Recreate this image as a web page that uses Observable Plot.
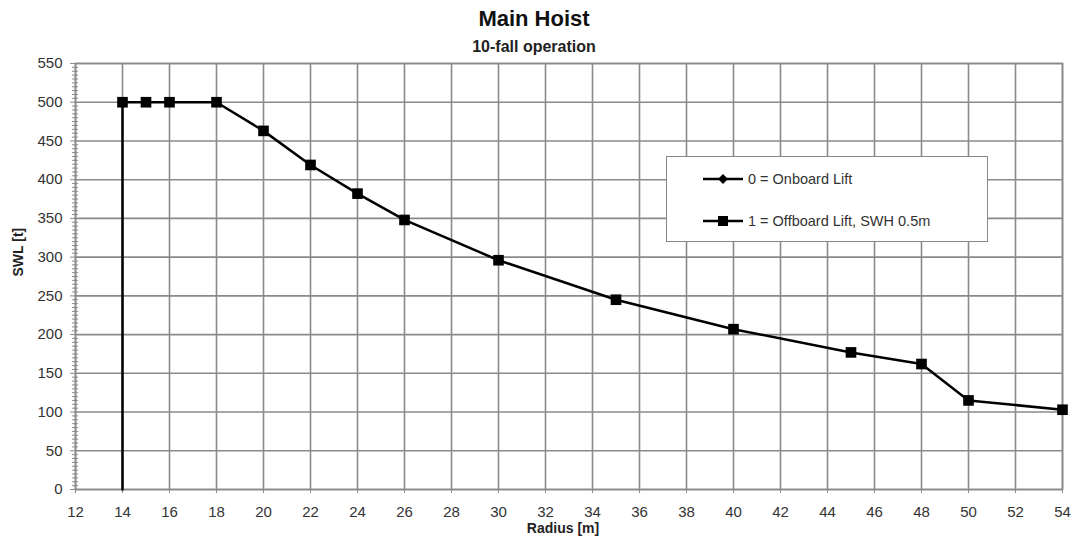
<!DOCTYPE html>
<html>
<head>
<meta charset="utf-8">
<script src="https://cdn.jsdelivr.net/npm/d3@7"></script>
<script src="https://cdn.jsdelivr.net/npm/@observablehq/plot@0.6"></script>
<style>
  html, body { margin: 0; padding: 0; background: #fff; }
  #wrap { position: relative; width: 1073px; height: 541px; font-family: "Liberation Sans", Arial, sans-serif; }
  #legend { position: absolute; left: 666px; top: 156px; width: 322px; height: 86px; background: #fff; border: 1.5px solid #888; box-sizing: border-box; }
  .item { position: absolute; left: 35px; height: 20px; display: flex; align-items: center; font-size: 14.5px; color: #333; }
  .item svg { margin-right: 4px; }
</style>
</head>
<body>
<div id="wrap"></div>
<script>
const title = "Main Hoist";
const subtitle = "10-fall operation";
const xLabel = "Radius [m]";
const yLabel = "SWL [t]";
const seriesNames = ["0 = Onboard Lift", "1 = Offboard Lift, SWH 0.5m"];

// line path (starts at the base of the vertical segment at 14 m)
const radius = [14, 14, 15, 16, 18, 20, 22, 24, 26, 30, 35, 40, 45, 48, 50, 54];
const swl    = [0, 500, 500, 500, 500, 463, 419, 382, 348, 296, 245, 207, 177, 162, 115, 103];
const hasMarker = [false, true, true, true, true, true, true, true, true, true, true, true, true, true, true, true];

const xTicks = d3.range(12, 55, 2);
const yTicks = d3.range(0, 551, 50);
const yMinor = d3.range(0, 551, 5).filter(v => v % 50 !== 0);

const data = radius.map((r, i) => ({r, s: swl[i], m: hasMarker[i]}));

const grid = "#8a8a8a";
const chart = Plot.plot({
  width: 1073,
  height: 541,
  marginLeft: 75,
  marginRight: 11,
  marginTop: 63,
  marginBottom: 52,
  style: {fontFamily: "Liberation Sans, Arial, sans-serif", background: "#fff"},
  x: {domain: [12, 54], axis: null},
  y: {domain: [0, 550], axis: null},
  marks: [
    Plot.gridX(xTicks, {stroke: grid, strokeOpacity: 1, strokeWidth: 1.6}),
    Plot.gridY(yTicks, {stroke: grid, strokeOpacity: 1, strokeWidth: 1.6}),
    Plot.frame({stroke: grid, strokeWidth: 1.6}),
    Plot.axisX(xTicks, {tickSize: 4, tickPadding: 13, fontSize: 15, stroke: grid, fill: "#333", label: null}),
    Plot.axisY(yTicks, {tickSize: 5, tickPadding: 8, fontSize: 15, stroke: grid, fill: "#333", label: null}),
    Plot.axisY(yMinor, {tickSize: 6, dx: 3, tickFormat: () => "", stroke: grid, label: null}),
    Plot.line(data, {x: "r", y: "s", stroke: "black", strokeWidth: 2.5}),
    Plot.dot(data.filter(d => d.m), {x: "r", y: "s", symbol: "square", r: 6, fill: "black", stroke: "none"}),
    Plot.text([title], {frameAnchor: "top", lineAnchor: "middle", dx: -35, dy: -45, fontSize: 22, fontWeight: "bold", fill: "#111"}),
    Plot.text([subtitle], {frameAnchor: "top", lineAnchor: "middle", dx: -35, dy: -17, fontSize: 16, fontWeight: "bold", fill: "#222"}),
    Plot.text([xLabel], {frameAnchor: "bottom", lineAnchor: "middle", dx: -6, dy: 39, fontSize: 14, fontWeight: "bold", fill: "#222"}),
    Plot.text([yLabel], {frameAnchor: "left", lineAnchor: "middle", dx: -57, rotate: -90, fontSize: 14, fontWeight: "bold", fill: "#222"})
  ]
});
const wrap = document.getElementById("wrap");
wrap.appendChild(chart);

const legend = document.createElement("div");
legend.id = "legend";
const symbols = [
  '<svg width="42" height="14"><line x1="1" y1="7" x2="41" y2="7" stroke="black" stroke-width="2.5"/><path d="M21 2 L26 7 L21 12 L16 7 Z" fill="black"/></svg>',
  '<svg width="42" height="14"><line x1="1" y1="7" x2="41" y2="7" stroke="black" stroke-width="2.5"/><rect x="16" y="2" width="10" height="10" fill="black"/></svg>'
];
seriesNames.forEach((name, i) => {
  const it = document.createElement("div");
  it.className = "item";
  it.style.top = (i === 0 ? 12 : 54) + "px";
  it.innerHTML = symbols[i] + "<span>" + name + "</span>";
  legend.appendChild(it);
});
wrap.appendChild(legend);
</script>
</body>
</html>
